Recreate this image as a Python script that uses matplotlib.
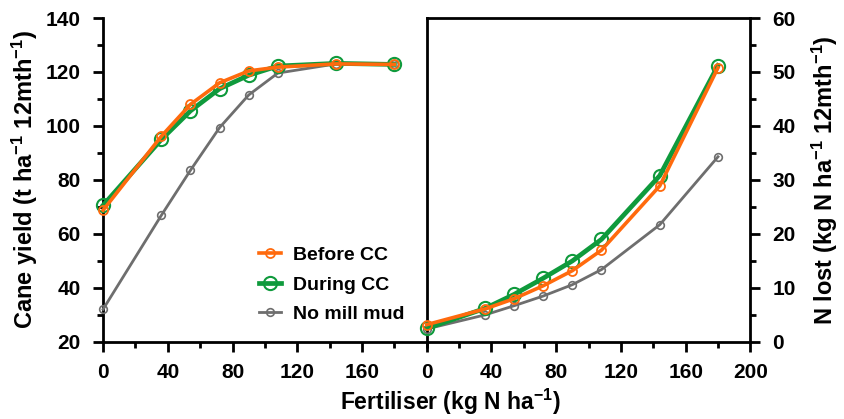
import matplotlib.pyplot as plt
from matplotlib.ticker import MultipleLocator

plt.rcParams["font.family"] = ["Liberation Sans", "DejaVu Sans"]
plt.rcParams["font.weight"] = "bold"
plt.rcParams["mathtext.default"] = "regular"

# Fertiliser rates (kg N/ha)
fert = [0, 36, 54, 72, 90, 108, 144, 180]

# Cane yield (t/ha/12mth)
yield_before = [68.8, 96.2, 108.0, 116.0, 120.4, 121.8, 123.0, 122.8]
yield_during = [70.6, 95.0, 105.6, 113.8, 118.8, 122.2, 123.2, 122.8]
yield_nomud = [32.1, 66.9, 83.6, 99.4, 111.5, 119.6, 123.0, 122.8]

# N lost (kg N/ha/12mth)
nlost_before = [3.2, 6.1, 8.0, 10.4, 13.2, 17.0, 28.9, 50.8]
nlost_during = [2.5, 6.2, 8.8, 11.8, 15.0, 19.0, 30.8, 51.2]
nlost_nomud = [2.4, 5.0, 6.7, 8.5, 10.6, 13.4, 21.7, 34.3]

c_before = "#ff6a0d"
c_during = "#0f9a3c"
c_nomud = "#6e6e6e"

fig = plt.figure(figsize=(8.45, 4.19), dpi=100)
ax1 = fig.add_axes([0.122, 0.184, 0.383, 0.773])
ax2 = fig.add_axes([0.505, 0.184, 0.383, 0.773])


def draw(ax, before, during, nomud):
    ax.plot(fert, nomud, "-o", color=c_nomud, lw=2, ms=5.5, mfc="none",
            mew=1.2, clip_on=False, zorder=3, label="No mill mud")
    ax.plot(fert, during, "-o", color=c_during, lw=3.4, ms=9.5, mfc="none",
            mew=1.5, clip_on=False, zorder=4, label="During CC")
    ax.plot(fert, before, "-o", color=c_before, lw=2.6, ms=6.5, mfc="none",
            mew=1.3, clip_on=False, zorder=5, label="Before CC")


draw(ax1, yield_before, yield_during, yield_nomud)
draw(ax2, nlost_before, nlost_during, nlost_nomud)

for ax in (ax1, ax2):
    ax.set_xlim(0, 200)
    ax.xaxis.set_major_locator(MultipleLocator(40))
    ax.xaxis.set_minor_locator(MultipleLocator(20))
    ax.tick_params(which="major", direction="out", length=7, width=2,
                   labelsize=15)
    ax.tick_params(which="minor", direction="out", length=4, width=2)
    ax.tick_params(axis="x", which="major", pad=8.5)
    ax.tick_params(axis="y", which="major", pad=9)
    for s in ax.spines.values():
        s.set_linewidth(2)

# left panel
ax1.set_ylim(20, 140)
ax1.yaxis.set_major_locator(MultipleLocator(20))
ax1.yaxis.set_minor_locator(MultipleLocator(10))
ax1.spines["top"].set_visible(False)
ax1.spines["right"].set_visible(False)
ax1.set_xticks([0, 40, 80, 120, 160])
ax1.set_ylabel("Cane yield (t ha$^{-1}$ 12mth$^{-1}$)", fontsize=17,
               fontweight="bold", labelpad=4)

# right panel
ax2.set_ylim(0, 60)
ax2.yaxis.set_major_locator(MultipleLocator(10))
ax2.yaxis.set_minor_locator(MultipleLocator(5))
ax2.yaxis.tick_right()
ax2.yaxis.set_label_position("right")
ax2.tick_params(axis="y", which="both", left=False, right=True)
ax2.set_ylabel("N lost (kg N ha$^{-1}$ 12mth$^{-1}$)", fontsize=17,
               fontweight="bold", labelpad=10)

fig.text(0.533, 0.022, "Fertiliser (kg N ha$^{-1}$)", ha="center",
         va="baseline", fontsize=16.5, fontweight="bold")

handles, labels = ax1.get_legend_handles_labels()
ax1.legend(handles[::-1], labels[::-1], loc="lower left",
           bbox_to_anchor=(0.428, 0.005), frameon=False, fontsize=14,
           handlelength=1.15, handletextpad=0.6, labelspacing=0.6)

plt.savefig("out.png", dpi=100)
plt.close()
